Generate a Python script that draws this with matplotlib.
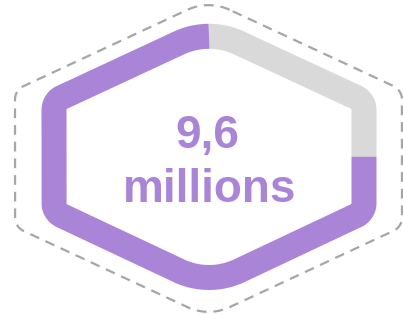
import numpy as np
import matplotlib
matplotlib.use("Agg")
import matplotlib.pyplot as plt

# gauge data
value = 9.6
target = 12.8
label_value = "9,6"
label_unit = "millions"

purple = "#A984D7"
grey_band = "#D9D9D9"
grey_dash = "#A6A6A6"

plt.rcParams['lines.scale_dashes'] = False


def rounded_loop(verts, radii, n_arc=41):
    # closed polyline with circular fillets at every vertex
    verts = np.asarray(verts, float)
    n = len(verts)
    out = []
    for i in range(n):
        p = verts[i]
        a = verts[i - 1]
        b = verts[(i + 1) % n]
        u1 = (a - p) / np.linalg.norm(a - p)
        u2 = (b - p) / np.linalg.norm(b - p)
        phi = np.arccos(np.clip(np.dot(u1, u2), -1, 1)) / 2
        r = radii[i]
        bis = (u1 + u2) / np.linalg.norm(u1 + u2)
        c = p + bis * r / np.sin(phi)
        t1 = p + u1 * r / np.tan(phi)
        t2 = p + u2 * r / np.tan(phi)
        a1 = np.arctan2(*(t1 - c)[::-1])
        a2 = np.arctan2(*(t2 - c)[::-1])
        d = (a2 - a1 + np.pi) % (2 * np.pi) - np.pi
        ang = a1 + d * np.linspace(0, 1, n_arc)
        out.append(np.c_[c[0] + r * np.cos(ang), c[1] + r * np.sin(ang)])
    return np.vstack(out)


fig = plt.figure(figsize=(4.03, 3.15), dpi=100)
ax = fig.add_axes([0, 0, 1, 1])
ax.set_xlim(0, 403)
ax.set_ylim(315, 0)
ax.axis("off")

# outer dashed frame
frame = rounded_loop([(208.5, 0), (15, 90), (15, 227), (208.5, 317), (402, 227), (402, 90)],
                     [50, 15, 15, 50, 15, 15])
frame = np.vstack([frame, frame[:1]])
ax.plot(frame[:, 0], frame[:, 1], color=grey_dash, lw=1.6, dashes=(7, 5),
        dash_capstyle="butt")

# gauge band, starting at the top and running anticlockwise
n_arc = 41
band = rounded_loop([(209, 29), (54, 101), (54, 212), (209, 285), (364, 212), (364, 101)],
                    [71, 14, 14, 71, 14, 14], n_arc)
band = np.roll(band, -(n_arc // 2), axis=0)
band = np.vstack([band, band[:1]])
seg = np.hypot(*np.diff(band, axis=0).T)
cum = np.r_[0, np.cumsum(seg)]
split = value / target * cum[-1]
k = np.searchsorted(cum, split) - 1
t = (split - cum[k]) / seg[k]
sp = band[k] + t * (band[k + 1] - band[k])
done = np.vstack([band[:k + 1], sp])
rest = np.vstack([sp, band[k + 1:]])

lw = 25 * 72 / 100
ax.plot(rest[:, 0], rest[:, 1], color=grey_band, lw=lw, solid_capstyle="butt",
        solid_joinstyle="round")
ax.plot(done[:, 0], done[:, 1], color=purple, lw=lw, solid_capstyle="butt",
        solid_joinstyle="round")

ax.text(207, 148, label_value, ha="center", va="baseline", fontsize=33,
        fontweight="bold", family="Liberation Sans", color=purple)
ax.text(210, 202, label_unit, ha="center", va="baseline", fontsize=33,
        fontweight="bold", family="Liberation Sans", color=purple)

fig.savefig("out.png", dpi=100)
